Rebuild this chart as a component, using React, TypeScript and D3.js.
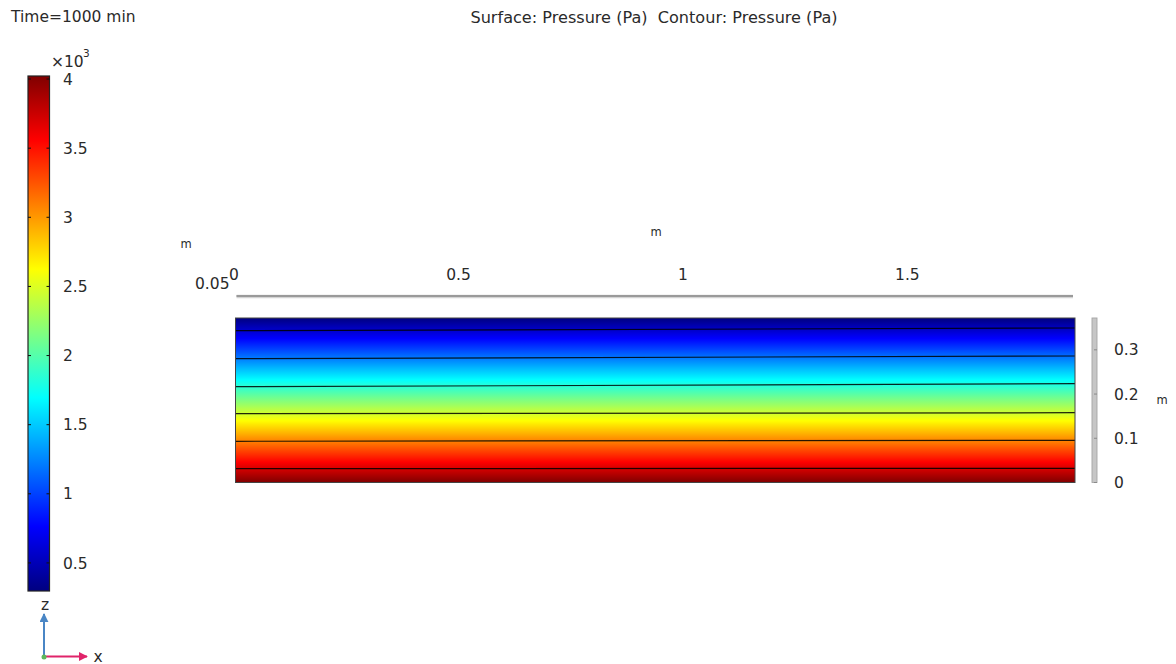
import React from "react";
import * as d3 from "d3";

// ---- data ----
const xDomain = [0, 1.87]; // m
const zDomain = [0, 0.372]; // m
const pressureRange = [297, 4022]; // Pa (min, max)
const xTicks = [0, 0.5, 1, 1.5];
const zTicks = [0, 0.1, 0.2, 0.3];
const colorTicks = [500, 1000, 1500, 2000, 2500, 3000, 3500, 4000];
const contourLevels = [607, 1228, 1849, 2470, 3091, 3711];
const contourX = [0, 1.87];
const contourZLeft = [0.3433, 0.28, 0.2166, 0.1556, 0.0932, 0.0312];
const contourZRight = [0.3494, 0.2861, 0.2234, 0.1578, 0.0954, 0.0321];
const jetPositions = [0, 0.125, 0.375, 0.625, 0.875, 1];
const jetColors = ["#000080", "#0000ff", "#00ffff", "#ffff00", "#ff0000", "#800000"];

const W = 1176;
const H = 664;
const FONT = "'DejaVu Sans', sans-serif";
const FS = 15.5;
const TXT = "#2a2a2a";

export default function App() {
  const x = d3.scaleLinear().domain(xDomain).range([235.5, 1075]);
  const z = d3.scaleLinear().domain(zDomain).range([482.5, 318]);
  const jet = d3
    .scaleLinear<string>()
    .domain(jetPositions)
    .range(jetColors)
    .interpolate(d3.interpolateRgb)
    .clamp(true);
  const pNorm = d3.scaleLinear().domain(pressureRange).range([0, 1]);
  const cbar = d3.scaleLinear().domain(pressureRange).range([591, 76]);
  const cbX0 = 28;
  const cbX1 = 49.5;

  const nStops = 40;
  const stops = d3.range(nStops + 1).map((i) => i / nStops);

  const line = d3
    .line<[number, number]>()
    .x((d) => x(d[0]))
    .y((d) => z(d[1]));

  return (
    <svg
      width={W}
      height={H}
      style={{ position: "absolute", left: 0, top: 0, background: "#fff" }}
      fontFamily={FONT}
    >
      <defs>
        <linearGradient
          id="surf"
          gradientUnits="userSpaceOnUse"
          x1={0}
          x2={0}
          y1={z(zDomain[0])}
          y2={z(zDomain[1])}
        >
          {stops.map((t) => (
            <stop key={t} offset={t} stopColor={jet(1 - t)} />
          ))}
        </linearGradient>
        <linearGradient
          id="cbar"
          gradientUnits="userSpaceOnUse"
          x1={0}
          x2={0}
          y1={cbar(pressureRange[0])}
          y2={cbar(pressureRange[1])}
        >
          {stops.map((t) => (
            <stop key={t} offset={t} stopColor={jet(t)} />
          ))}
        </linearGradient>
      </defs>

      {/* titles */}
      <text x={11} y={21.5} fontSize={FS} fill={TXT}>
        Time=1000 min
      </text>
      <text x={654} y={22.5} fontSize={16.1} fill={TXT} textAnchor="middle" style={{ whiteSpace: "pre" }}>
        {"Surface: Pressure (Pa)  Contour: Pressure (Pa)"}
      </text>

      {/* colorbar */}
      <text x={51} y={67} fontSize={FS} fill={TXT}>
        ×10
      </text>
      <text x={83} y={57} fontSize={10.5} fill={TXT}>
        3
      </text>
      <rect
        x={cbX0}
        y={cbar(pressureRange[1])}
        width={cbX1 - cbX0}
        height={cbar(pressureRange[0]) - cbar(pressureRange[1])}
        fill="url(#cbar)"
        stroke="#222"
        strokeWidth={1.2}
      />
      {colorTicks.map((v) => (
        <g key={v}>
          <line x1={cbX0} x2={cbX0 + 3} y1={cbar(v)} y2={cbar(v)} stroke="#111" strokeWidth={1} />
          <line x1={cbX1 - 3} x2={cbX1} y1={cbar(v)} y2={cbar(v)} stroke="#111" strokeWidth={1} />
          <text x={63} y={cbar(v)} dy="0.36em" fontSize={FS} fill={TXT}>
            {d3.format("~g")(v / 1000)}
          </text>
        </g>
      ))}

      {/* top axis */}
      <line x1={x(0) + 1} x2={x(xDomain[1]) - 2} y1={296.5} y2={296.5} stroke="#d4d4d4" strokeWidth={3.5} />
      <line x1={x(0) + 1} x2={x(xDomain[1]) - 2} y1={296} y2={296} stroke="#9a9a9a" strokeWidth={1.8} />
      {xTicks.map((v) => (
        <text key={v} x={x(v)} dx={-1.5} y={279.5} fontSize={FS} fill={TXT} textAnchor="middle">
          {d3.format("~g")(v)}
        </text>
      ))}
      <text x={656} y={236} fontSize={11.5} fill={TXT} textAnchor="middle">
        m
      </text>
      <text x={186} y={248} fontSize={11.5} fill={TXT} textAnchor="middle">
        m
      </text>
      <text x={195} y={288.5} fontSize={FS} fill={TXT}>
        0.05
      </text>

      {/* surface */}
      <rect
        x={x(xDomain[0])}
        y={z(zDomain[1])}
        width={x(xDomain[1]) - x(xDomain[0])}
        height={z(zDomain[0]) - z(zDomain[1])}
        fill="url(#surf)"
      />
      {contourLevels.map((lv, i) => (
        <path
          key={lv}
          d={
            line([
              [contourX[0], contourZLeft[i]],
              [contourX[1], contourZRight[i]],
            ]) || ""
          }
          fill="none"
          stroke="#000"
          strokeOpacity={0.85}
          strokeWidth={1.2}
          data-level={lv}
          data-p={pNorm(lv)}
        />
      ))}
      <rect
        x={x(xDomain[0])}
        y={z(zDomain[1])}
        width={x(xDomain[1]) - x(xDomain[0])}
        height={z(zDomain[0]) - z(zDomain[1])}
        fill="none"
        stroke="#444"
        strokeWidth={1}
      />

      {/* right axis */}
      <rect
        x={1092}
        y={z(zDomain[1])}
        width={5}
        height={z(0) - z(zDomain[1])}
        fill="#c6c6c6"
        stroke="#a4a4a4"
        strokeWidth={0.9}
      />
      {zTicks.map((v) => (
        <g key={v}>
          <line x1={1094} x2={1097} y1={z(v)} y2={z(v)} stroke="#8a8a8a" strokeWidth={1} />
          <text x={1114} y={z(v)} dy="0.36em" fontSize={FS} fill={TXT}>
            {d3.format("~g")(v)}
          </text>
        </g>
      ))}
      <text x={1162} y={404} fontSize={11.5} fill={TXT} textAnchor="middle">
        m
      </text>

      {/* axis triad */}
      <defs>
        <marker id="ab" viewBox="0 0 10 10" refX={9} refY={5} markerWidth={4.5} markerHeight={4.5} orient="auto">
          <path d="M0,0 L10,5 L0,10 z" fill="#4a86c5" />
        </marker>
        <marker id="ar" viewBox="0 0 10 10" refX={9} refY={5} markerWidth={4.5} markerHeight={4.5} orient="auto">
          <path d="M0,0 L10,5 L0,10 z" fill="#e0246a" />
        </marker>
      </defs>
      <line x1={44} y1={657} x2={44} y2={614} stroke="#4a86c5" strokeWidth={2} markerEnd="url(#ab)" />
      <line x1={44} y1={656.5} x2={87} y2={656.5} stroke="#e0246a" strokeWidth={2} markerEnd="url(#ar)" />
      <circle cx={44} cy={657} r={2.5} fill="#5cb85c" />
      <text x={45} y={610} fontSize={FS} fill={TXT} textAnchor="middle">
        z
      </text>
      <text x={98} y={661.5} fontSize={FS} fill={TXT} textAnchor="middle">
        x
      </text>
    </svg>
  );
}
